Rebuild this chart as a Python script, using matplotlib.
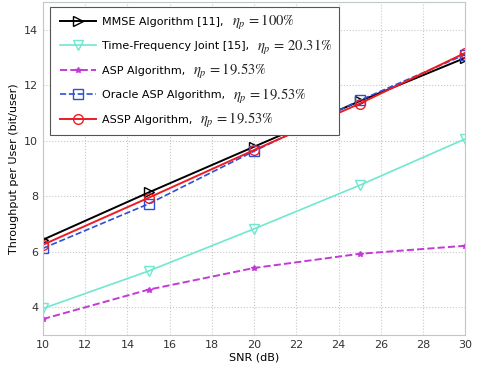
import matplotlib
matplotlib.use("Agg")
import matplotlib.pyplot as plt
from matplotlib.patches import Rectangle

snr = [10, 15, 20, 25, 30]
mmse = [6.43, 8.13, 9.78, 11.42, 12.98]
tf_joint = [3.95, 5.3, 6.82, 8.39, 10.06]
asp = [3.57, 4.63, 5.41, 5.92, 6.21]
oracle_asp = [6.12, 7.72, 9.62, 11.45, 13.1]
assp = [6.25, 7.94, 9.66, 11.33, 13.16]

names = [
    "MMSE Algorithm [11],",
    "Time-Frequency Joint [15],",
    "ASP Algorithm,",
    "Oracle ASP Algorithm,",
    "ASSP Algorithm,",
]
ratios = [
    r"$\eta_p\,=100\%$",
    r"$\eta_p\,=\,20.31\%$",
    r"$\eta_p\,=19.53\%$",
    r"$\eta_p\,=19.53\%$",
    r"$\eta_p\,=19.53\%$",
]

plt.rcParams['mathtext.fontset'] = 'stix'
fig = plt.figure(figsize=(4.84, 3.70), dpi=100)
ax = fig.add_axes([0.089, 0.095, 0.872, 0.9])

ax.plot(snr, mmse, color='black', lw=1.4, marker='>', ms=7, mfc='none', mew=1.0, label=names[0])
ax.plot(snr, tf_joint, color='#6fe8cf', lw=1.2, marker='v', ms=7, mfc='none', mew=1.0, label=names[1])
ax.plot(snr, asp, color='#c43ad8', lw=1.4, ls='--', marker='*', ms=4, label=names[2])
ax.plot(snr, oracle_asp, color='#2b4fd6', lw=1.2, ls='--', marker='s', ms=7, mfc='none', mew=1.0, label=names[3])
ax.plot(snr, assp, color='#ee1c24', lw=1.4, marker='o', ms=7, mfc='none', mew=1.0, label=names[4])

ax.set_xlim(10, 30)
ax.set_ylim(3, 15)
ax.set_xticks(range(10, 31, 2))
ax.set_yticks([4, 6, 8, 10, 12, 14])
ax.tick_params(labelsize=8, length=0, colors='#333333')
ax.grid(True, ls=':', color='#c8c8c8', lw=0.8)
for s in ax.spines.values():
    s.set_color('#c0c8c8')
ax.set_xlabel('SNR (dB)', fontsize=8, labelpad=2)
ax.set_ylabel('Throughput per User (bit/user)', fontsize=8, labelpad=4)

leg = ax.legend(loc='upper left', fontsize=8, frameon=False, handlelength=3.3,
                handletextpad=0.5, borderpad=0.9, labelspacing=1.3,
                borderaxespad=0, bbox_to_anchor=(0.016, 0.985))
leg.set_zorder(6)

fig.canvas.draw()
r = fig.canvas.get_renderer()
inv = fig.transFigure.inverted()
right = 0
for t, m in zip(leg.get_texts(), ratios):
    bb = t.get_window_extent(r)
    x, y = inv.transform((bb.x1 + 8, (bb.y0 + bb.y1) / 2 - 1))
    mt = fig.text(x, y, m, fontsize=10.5, va='center', ha='left', color='#222222')
    mb = mt.get_window_extent(r)
    right = max(right, mb.x1)
lb = leg.get_window_extent(r)
x0, y0 = inv.transform((lb.x0, lb.y0))
x1, y1 = inv.transform((right + 6, lb.y1))
rect = Rectangle((x0, y0), x1 - x0, y1 - y0, transform=fig.transFigure,
                 facecolor='white', edgecolor='#555555', lw=0.8, zorder=5.5, clip_on=False)
ax.add_patch(rect)

fig.savefig('out.png', dpi=100)
